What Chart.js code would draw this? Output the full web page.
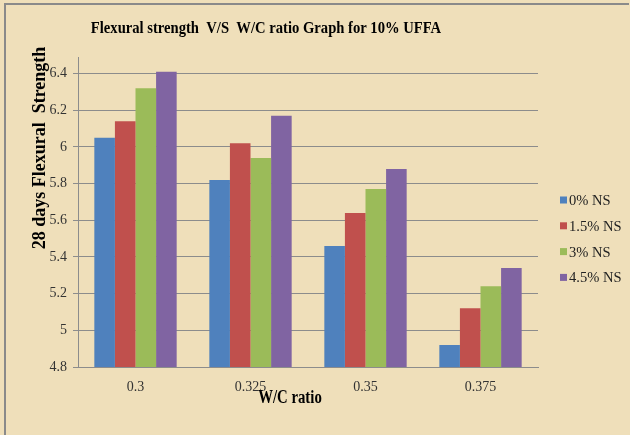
<!DOCTYPE html>
<html>
<head>
<meta charset="utf-8">
<script src="https://cdn.jsdelivr.net/npm/chart.js@4"></script>
<style>
  html, body { margin: 0; padding: 0; background: #efdfba; }
  #wrap { width: 630px; height: 435px; }
</style>
</head>
<body>
<div id="wrap"><canvas id="chart1" width="630" height="435"></canvas></div>
<script>
// W/C ratio categories and 28 day flexural strength for each NS dosage
var wcRatio = ["0.3", "0.325", "0.35", "0.375"];
var ns0 = [6.05, 5.82, 5.46, 4.92];
var ns15 = [6.14, 6.02, 5.64, 5.12];
var ns3 = [6.32, 5.94, 5.77, 5.24];
var ns45 = [6.41, 6.17, 5.88, 5.34];
var yTicks = [4.8, 5, 5.2, 5.4, 5.6, 5.8, 6, 6.2, 6.4];

var titleText = "Flexural strength  V/S  W/C ratio Graph for 10% UFFA";
var xTitle = "W/C ratio";
var yTitle = "28 days Flexural  Strength";

var serif = "'Liberation Serif', 'Times New Roman', serif";

// paper background, frame, titles and legend
var decor = {
	id: "decor",
	beforeDraw: function(chart) {
		var ctx = chart.ctx;
		ctx.save();
		ctx.fillStyle = "#efdfba";
		ctx.fillRect(0, 0, chart.width, chart.height);
		ctx.strokeStyle = "#8a8a8a";
		ctx.lineWidth = 2;
		ctx.beginPath();
		ctx.moveTo(5, chart.height);
		ctx.lineTo(5, 4);
		ctx.lineTo(629, 4);
		ctx.stroke();
		ctx.restore();
	},
	afterDraw: function(chart) {
		var ctx = chart.ctx;
		ctx.save();
		ctx.fillStyle = "#000";
		ctx.textBaseline = "alphabetic";
		ctx.textAlign = "center";

		ctx.font = "bold 17px " + serif;
		ctx.save();
		ctx.translate(266, 33);
		ctx.scale(0.86, 1);
		ctx.fillText(titleText, 0, 0);
		ctx.restore();

		ctx.font = "bold 18px " + serif;
		ctx.save();
		ctx.translate(290, 403);
		ctx.scale(0.82, 1);
		ctx.fillText(xTitle, 0, 0);
		ctx.restore();

		ctx.font = "bold 18px " + serif;
		ctx.save();
		ctx.translate(45, 148);
		ctx.rotate(-Math.PI / 2);
		ctx.fillText(yTitle, 0, 0);
		ctx.restore();

		// legend
		ctx.textAlign = "left";
		ctx.textBaseline = "middle";
		ctx.font = "15px " + serif;
		chart.data.datasets.forEach(function(ds, i) {
			var y = 200 + i * 25.8;
			ctx.fillStyle = ds.backgroundColor;
			ctx.fillRect(560, y - 3.5, 7, 7);
			ctx.fillStyle = "#222";
			ctx.save();
			ctx.translate(569, y + 1);
			ctx.scale(0.97, 1);
			ctx.fillText(ds.label, 0, 0);
			ctx.restore();
		});
		ctx.restore();
	}
};

var chart1 = document.getElementById("chart1");

var myBarChart = new Chart(chart1, {
	type: "bar",
	data: {
		labels: wcRatio,
		datasets: [
			{label: "0% NS", data: ns0, backgroundColor: "#4f81bd"},
			{label: "1.5% NS", data: ns15, backgroundColor: "#c0504d"},
			{label: "3% NS", data: ns3, backgroundColor: "#9bbb59"},
			{label: "4.5% NS", data: ns45, backgroundColor: "#8064a2"}
		]
	},
	options: {
		responsive: false,
		animation: false,
		datasets: {
			bar: {categoryPercentage: 0.716, barPercentage: 1.0, borderWidth: 0}
		},
		layout: {padding: {top: 57, left: 0, right: 92, bottom: 0}},
		plugins: {
			legend: {display: false},
			title: {display: false},
			tooltip: {enabled: false}
		},
		scales: {
			x: {
				grid: {display: false},
				border: {display: true, color: "#8c8c8c", width: 1},
				ticks: {
					color: "#333",
					padding: 4,
					font: {family: serif, size: 14}
				},
				afterFit: function(axis) { axis.height = 68; }
			},
			y: {
				min: 4.8,
				max: 6.49,
				grid: {color: "#8c8c8c", lineWidth: 1, tickLength: 5},
				border: {display: true, color: "#8c8c8c", width: 1},
				ticks: {
					color: "#333",
					padding: 6,
					font: {family: serif, size: 14},
					callback: function(v) { return String(Math.round(v * 10) / 10); }
				},
				afterBuildTicks: function(axis) {
					axis.ticks = yTicks.map(function(v) { return {value: v}; });
				},
				afterFit: function(axis) { axis.width = 78; }
			}
		}
	},
	plugins: [decor]
});
</script>
</body>
</html>
